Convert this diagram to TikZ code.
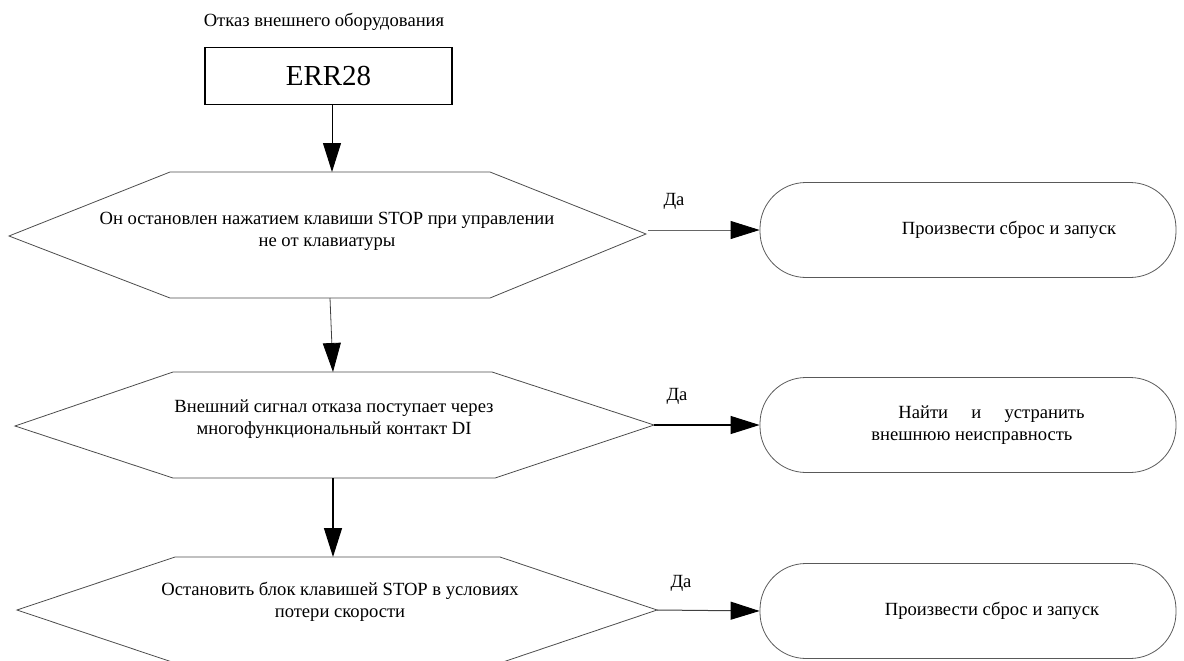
\documentclass[tikz,border=0pt]{standalone}
\usepackage{fontspec}
\setmainfont{Liberation Serif}
\usetikzlibrary{arrows.meta}
\begin{document}
\begin{tikzpicture}[x=1pt,y=-1pt,
  hexline/.style={draw=black!70, line width=0.8pt, line join=miter},
  tip/.style={-{Triangle[length=29pt,width=18pt,color=black]}},
  txt/.style={font=\fontsize{18.6}{22}\selectfont, align=center, inner sep=0pt},
  endbox/.style={draw=black!65, line width=0.8pt, rounded corners=46pt, minimum width=416pt, minimum height=95pt, txt}
]
\useasboundingbox (0,0) rectangle (1184,661);

% title and start box
\node[txt] (title) at (324,22) {Отказ внешнего оборудования};
\node[draw, line width=1.6pt, minimum width=247pt, minimum height=57pt,
      font=\fontsize{29}{30}\selectfont, inner sep=0pt] (err) at (328.5,76) {ERR28};

% hexagon 1
\coordinate (h1l) at (9,236);
\coordinate (h1tl) at (170,172);
\coordinate (h1t) at (332,172);
\coordinate (h1tr) at (490,172);
\coordinate (h1r) at (646,234);
\coordinate (h1br) at (490,298);
\coordinate (h1b) at (330,298);
\coordinate (h1bl) at (170,298);
\draw[hexline] (h1l) -- (h1tl) -- (h1tr) -- (h1r) -- (h1br) -- (h1bl) -- cycle;
\node[txt] (q1) at (327,231) {Он остановлен нажатием клавиши STOP при управлении\\не от клавиатуры};

% hexagon 2
\coordinate (h2l) at (15,426);
\coordinate (h2tl) at (173,372);
\coordinate (h2t) at (333,372);
\coordinate (h2tr) at (492,372);
\coordinate (h2r) at (654,425);
\coordinate (h2br) at (495,478);
\coordinate (h2b) at (333,478);
\coordinate (h2bl) at (173,478);
\draw[hexline] (h2l) -- (h2tl) -- (h2tr) -- (h2r) -- (h2br) -- (h2bl) -- cycle;
\node[txt] (q2) at (334,419) {Внешний сигнал отказа поступает через\\многофункциональный контакт DI};

% hexagon 3
\coordinate (h3l) at (17,610);
\coordinate (h3tl) at (175,557);
\coordinate (h3t) at (333,557);
\coordinate (h3tr) at (500,557);
\coordinate (h3r) at (657,610);
\coordinate (h3br) at (500,663);
\coordinate (h3bl) at (175,663);
\draw[hexline] (h3l) -- (h3tl) -- (h3tr) -- (h3r) -- (h3br) -- (h3bl) -- cycle;
\node[txt] (q3) at (340,602) {Остановить блок клавишей STOP в условиях\\потери скорости};

% end boxes
\node[endbox] (r1) at (968,230) {\hspace*{82pt}Произвести сброс и запуск};
\node[endbox, align=left] (r2) at (968,425) {\hspace*{47pt}Найти\quad\ и\quad\ устранить\\\hspace*{20pt}внешнюю неисправность};
\node[endbox] (r3) at (968,611) {\hspace*{48pt}Произвести сброс и запуск};

% labels
\node[txt] (da1) at (674,201) {Да};
\node[txt] (da2) at (677,396) {Да};
\node[txt] (da3) at (681,583) {Да};

% connectors
\draw[tip, line width=1pt] (err.south -| h1t) -- (h1t);
\draw[tip, line width=0.8pt, draw=black!75] (h1b) -- (h2t);
\draw[tip, line width=1.4pt] (h2b) -- (h3t);
\coordinate (a1) at (648,230);
\draw[tip, line width=0.8pt, draw=black!60] (a1) -- (r1.west);
\draw[tip, line width=1.1pt] (h2r) -- (r2.west);
\draw[tip, line width=1pt, draw=black!75] (h3r) -- (r3.west);
\end{tikzpicture}
\end{document}
